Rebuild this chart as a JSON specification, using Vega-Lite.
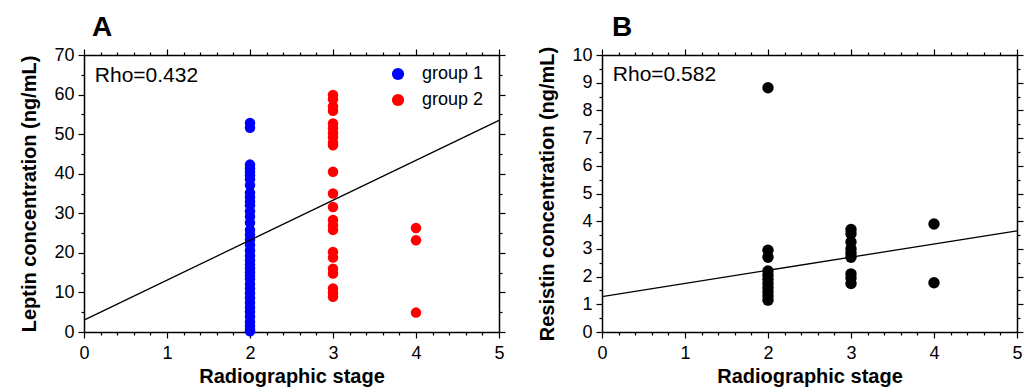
{
  "$schema": "https://vega.github.io/schema/vega-lite/v6.json",
  "background": "white",
  "padding": {"left": 19, "top": 14, "right": 5, "bottom": 2},
  "spacing": 31,
  "config": {
    "font": "Liberation Sans",
    "view": {"stroke": null},
    "axis": {"domainColor": "black", "domainWidth": 1.5, "tickColor": "black", "tickWidth": 1.2, "labelFont": "Liberation Sans", "labelFontSize": 18, "labelColor": "black", "titleFont": "Liberation Sans", "titleFontSize": 20, "titleFontWeight": "bold", "titleColor": "black", "grid": false, "labelPadding": 4, "labelFlush": false, "labelOverlap": false},
    "axisBottom": {"labelPadding": 6},
    "title": {"font": "Liberation Sans", "fontSize": 28, "fontWeight": "bold", "color": "black", "anchor": "start", "frame": "group", "offset": 4}
  },
  "datasets": {
    "leptin": [
      {"stage": 2, "value": 52.8, "group": "group 1"}, {"stage": 2, "value": 51.6, "group": "group 1"},
      {"stage": 2, "value": 42.3, "group": "group 1"}, {"stage": 2, "value": 41.4, "group": "group 1"},
      {"stage": 2, "value": 40.5, "group": "group 1"}, {"stage": 2, "value": 39.6, "group": "group 1"},
      {"stage": 2, "value": 38.6, "group": "group 1"}, {"stage": 2, "value": 37.1, "group": "group 1"},
      {"stage": 2, "value": 35.2, "group": "group 1"}, {"stage": 2, "value": 34.1, "group": "group 1"},
      {"stage": 2, "value": 33.0, "group": "group 1"}, {"stage": 2, "value": 32.0, "group": "group 1"},
      {"stage": 2, "value": 30.5, "group": "group 1"}, {"stage": 2, "value": 29.2, "group": "group 1"},
      {"stage": 2, "value": 27.6, "group": "group 1"}, {"stage": 2, "value": 25.8, "group": "group 1"},
      {"stage": 2, "value": 24.6, "group": "group 1"}, {"stage": 2, "value": 23.4, "group": "group 1"},
      {"stage": 2, "value": 22.0, "group": "group 1"}, {"stage": 2, "value": 20.6, "group": "group 1"},
      {"stage": 2, "value": 19.3, "group": "group 1"}, {"stage": 2, "value": 18.1, "group": "group 1"},
      {"stage": 2, "value": 17.0, "group": "group 1"}, {"stage": 2, "value": 16.1, "group": "group 1"},
      {"stage": 2, "value": 15.1, "group": "group 1"}, {"stage": 2, "value": 14.2, "group": "group 1"},
      {"stage": 2, "value": 13.4, "group": "group 1"}, {"stage": 2, "value": 12.1, "group": "group 1"},
      {"stage": 2, "value": 11.0, "group": "group 1"}, {"stage": 2, "value": 9.8, "group": "group 1"},
      {"stage": 2, "value": 8.6, "group": "group 1"}, {"stage": 2, "value": 7.4, "group": "group 1"},
      {"stage": 2, "value": 6.2, "group": "group 1"}, {"stage": 2, "value": 5.1, "group": "group 1"},
      {"stage": 2, "value": 3.9, "group": "group 1"}, {"stage": 2, "value": 2.6, "group": "group 1"},
      {"stage": 2, "value": 1.5, "group": "group 1"}, {"stage": 2, "value": 0.6, "group": "group 1"},
      {"stage": 2, "value": 0.2, "group": "group 1"},
      {"stage": 3, "value": 59.9, "group": "group 2"}, {"stage": 3, "value": 58.8, "group": "group 2"},
      {"stage": 3, "value": 57.0, "group": "group 2"}, {"stage": 3, "value": 55.9, "group": "group 2"},
      {"stage": 3, "value": 52.7, "group": "group 2"}, {"stage": 3, "value": 51.5, "group": "group 2"},
      {"stage": 3, "value": 50.3, "group": "group 2"}, {"stage": 3, "value": 49.2, "group": "group 2"},
      {"stage": 3, "value": 47.9, "group": "group 2"}, {"stage": 3, "value": 47.2, "group": "group 2"},
      {"stage": 3, "value": 40.5, "group": "group 2"}, {"stage": 3, "value": 35.0, "group": "group 2"},
      {"stage": 3, "value": 31.6, "group": "group 2"}, {"stage": 3, "value": 28.3, "group": "group 2"},
      {"stage": 3, "value": 27.0, "group": "group 2"}, {"stage": 3, "value": 25.8, "group": "group 2"},
      {"stage": 3, "value": 20.2, "group": "group 2"}, {"stage": 3, "value": 18.8, "group": "group 2"},
      {"stage": 3, "value": 16.0, "group": "group 2"}, {"stage": 3, "value": 14.8, "group": "group 2"},
      {"stage": 3, "value": 11.0, "group": "group 2"}, {"stage": 3, "value": 9.9, "group": "group 2"},
      {"stage": 3, "value": 8.9, "group": "group 2"},
      {"stage": 4, "value": 26.3, "group": "group 2"}, {"stage": 4, "value": 23.2, "group": "group 2"},
      {"stage": 4, "value": 4.9, "group": "group 2"}
    ],
    "leptinFit": [{"stage": 0, "value": 3.0}, {"stage": 5, "value": 53.5}],
    "leptinRho": [{"stage": 0.13, "value": 64.8, "label": "Rho=0.432"}],
    "resistin": [
      {"stage": 2, "value": 8.82}, {"stage": 2, "value": 2.95}, {"stage": 2, "value": 2.7},
      {"stage": 2, "value": 2.2}, {"stage": 2, "value": 2.05}, {"stage": 2, "value": 1.9},
      {"stage": 2, "value": 1.75}, {"stage": 2, "value": 1.6}, {"stage": 2, "value": 1.45},
      {"stage": 2, "value": 1.3}, {"stage": 2, "value": 1.15},
      {"stage": 3, "value": 3.7}, {"stage": 3, "value": 3.55}, {"stage": 3, "value": 3.25},
      {"stage": 3, "value": 3.0}, {"stage": 3, "value": 2.85}, {"stage": 3, "value": 2.7},
      {"stage": 3, "value": 2.1}, {"stage": 3, "value": 1.95}, {"stage": 3, "value": 1.75},
      {"stage": 4, "value": 3.9}, {"stage": 4, "value": 1.78}
    ],
    "resistinFit": [{"stage": 0, "value": 1.28}, {"stage": 5, "value": 3.65}],
    "resistinRho": [{"stage": 0.13, "value": 9.26, "label": "Rho=0.582"}]
  },
  "hconcat": [
    {
      "width": 415, "height": 277,
      "title": {"text": "A", "dx": 8},
      "layer": [
        {
          "data": {"name": "leptin"},
          "mark": {"type": "circle", "size": 110, "opacity": 1},
          "encoding": {
            "x": {"field": "stage", "type": "quantitative", "scale": {"domain": [0, 5], "nice": false},
              "axis": {"orient": "bottom", "title": "Radiographic stage", "titlePadding": 4,
                "values": [0,0.2,0.4,0.6,0.8,1,1.2,1.4,1.6,1.8,2,2.2,2.4,2.6,2.8,3,3.2,3.4,3.6,3.8,4,4.2,4.4,4.6,4.8,5],
                "labelExpr": "datum.value === round(datum.value) ? '' + datum.value : ''",
                "tickSize": {"condition": {"test": "datum.value === round(datum.value)", "value": 6}, "value": 3}}},
            "y": {"field": "value", "type": "quantitative", "scale": {"domain": [0, 70], "nice": false},
              "axis": {"orient": "left", "title": "Leptin concentration (ng/mL)", "titlePadding": 14,
                "values": [0,5,10,15,20,25,30,35,40,45,50,55,60,65,70],
                "labelExpr": "datum.value % 10 === 0 ? '' + datum.value : ''",
                "tickSize": {"condition": {"test": "datum.value % 10 === 0", "value": 6}, "value": 3}}},
            "color": {"field": "group", "type": "nominal",
              "scale": {"domain": ["group 1", "group 2"], "range": ["#0000ff", "#ff0000"]},
              "legend": {"orient": "none", "legendX": 305, "legendY": 10, "title": null, "labelFontSize": 18, "labelFont": "Liberation Sans", "labelColor": "black", "symbolType": "circle", "symbolSize": 150, "symbolStrokeWidth": 0, "symbolOpacity": 1, "rowPadding": 8, "labelOffset": 15}}
          }
        },
        {
          "data": {"name": "leptinFit"},
          "mark": {"type": "line", "color": "black", "strokeWidth": 1.3},
          "encoding": {
            "x": {"field": "stage", "type": "quantitative", "scale": {"domain": [0, 5], "nice": false},
              "axis": {"orient": "top", "title": null, "labels": false,
                "values": [0,0.2,0.4,0.6,0.8,1,1.2,1.4,1.6,1.8,2,2.2,2.4,2.6,2.8,3,3.2,3.4,3.6,3.8,4,4.2,4.4,4.6,4.8,5],
                "tickSize": {"condition": {"test": "datum.value === round(datum.value)", "value": 6}, "value": 3}}},
            "y": {"field": "value", "type": "quantitative", "scale": {"domain": [0, 70], "nice": false},
              "axis": {"orient": "right", "title": null, "labels": false,
                "values": [0,5,10,15,20,25,30,35,40,45,50,55,60,65,70],
                "tickSize": {"condition": {"test": "datum.value % 10 === 0", "value": 6}, "value": 3}}}
          }
        },
        {
          "data": {"name": "leptinRho"},
          "mark": {"type": "text", "align": "left", "baseline": "middle", "fontSize": 21, "font": "Liberation Sans", "color": "black"},
          "encoding": {
            "x": {"field": "stage", "type": "quantitative", "axis": null},
            "y": {"field": "value", "type": "quantitative", "axis": null},
            "text": {"field": "label"}
          }
        }
      ],
      "resolve": {"axis": {"x": "independent", "y": "independent"}}
    },
    {
      "width": 415, "height": 277,
      "title": {"text": "B", "dx": 10},
      "layer": [
        {
          "data": {"name": "resistin"},
          "mark": {"type": "circle", "size": 130, "opacity": 1, "color": "black"},
          "encoding": {
            "x": {"field": "stage", "type": "quantitative", "scale": {"domain": [0, 5], "nice": false},
              "axis": {"orient": "bottom", "title": "Radiographic stage", "titlePadding": 4,
                "values": [0,0.2,0.4,0.6,0.8,1,1.2,1.4,1.6,1.8,2,2.2,2.4,2.6,2.8,3,3.2,3.4,3.6,3.8,4,4.2,4.4,4.6,4.8,5],
                "labelExpr": "datum.value === round(datum.value) ? '' + datum.value : ''",
                "tickSize": {"condition": {"test": "datum.value === round(datum.value)", "value": 6}, "value": 3}}},
            "y": {"field": "value", "type": "quantitative", "scale": {"domain": [0, 10], "nice": false},
              "axis": {"orient": "left", "title": "Resistin concentration (ng/mL)", "titlePadding": 14,
                "values": [0,0.5,1,1.5,2,2.5,3,3.5,4,4.5,5,5.5,6,6.5,7,7.5,8,8.5,9,9.5,10],
                "labelExpr": "datum.value === round(datum.value) ? '' + datum.value : ''",
                "tickSize": {"condition": {"test": "datum.value === round(datum.value)", "value": 6}, "value": 3}}}
          }
        },
        {
          "data": {"name": "resistinFit"},
          "mark": {"type": "line", "color": "black", "strokeWidth": 1.3},
          "encoding": {
            "x": {"field": "stage", "type": "quantitative", "scale": {"domain": [0, 5], "nice": false},
              "axis": {"orient": "top", "title": null, "labels": false,
                "values": [0,0.2,0.4,0.6,0.8,1,1.2,1.4,1.6,1.8,2,2.2,2.4,2.6,2.8,3,3.2,3.4,3.6,3.8,4,4.2,4.4,4.6,4.8,5],
                "tickSize": {"condition": {"test": "datum.value === round(datum.value)", "value": 6}, "value": 3}}},
            "y": {"field": "value", "type": "quantitative", "scale": {"domain": [0, 10], "nice": false},
              "axis": {"orient": "right", "title": null, "labels": false,
                "values": [0,0.5,1,1.5,2,2.5,3,3.5,4,4.5,5,5.5,6,6.5,7,7.5,8,8.5,9,9.5,10],
                "tickSize": {"condition": {"test": "datum.value === round(datum.value)", "value": 6}, "value": 3}}}
          }
        },
        {
          "data": {"name": "resistinRho"},
          "mark": {"type": "text", "align": "left", "baseline": "middle", "fontSize": 21, "font": "Liberation Sans", "color": "black"},
          "encoding": {
            "x": {"field": "stage", "type": "quantitative", "axis": null},
            "y": {"field": "value", "type": "quantitative", "axis": null},
            "text": {"field": "label"}
          }
        }
      ],
      "resolve": {"axis": {"x": "independent", "y": "independent"}}
    }
  ]
}
